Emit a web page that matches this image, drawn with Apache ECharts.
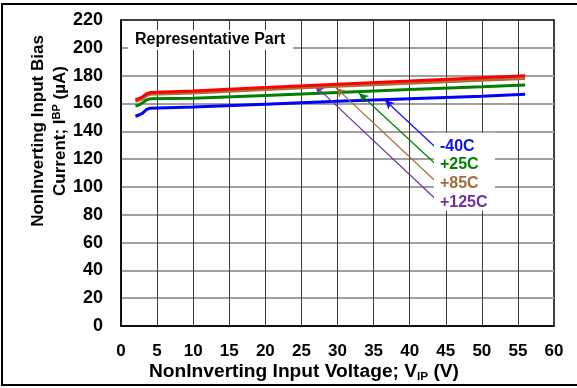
<!DOCTYPE html>
<html>
<head>
<meta charset="utf-8">
<script src="https://cdn.jsdelivr.net/npm/echarts@6/dist/echarts.min.js"></script>
<style>
html,body{margin:0;padding:0;background:#fff;}
#c{width:577px;height:388px;}
</style>
</head>
<body>
<div id="c"></div>
<script>
// Data (x in V, y in µA)
const vIn = [2, 2.5, 3, 3.5, 4, 10, 20, 30, 40, 50, 56];
const iBlue  = [150.8, 151.7, 153.0, 155.5, 156.6, 157.5, 159.5, 161.5, 163.4, 165.2, 166.6]; // -40C
const iGreen = [158.2, 159.0, 160.5, 162.5, 163.3, 163.7, 165.8, 167.9, 170.0, 172.0, 173.3]; // +25C
const iBrown = [161.5, 162.3, 163.5, 165.5, 166.6, 167.5, 170.0, 172.3, 174.6, 176.6, 177.9]; // +85C
const iRed   = [162.8, 163.5, 164.8, 166.8, 167.8, 169.0, 171.5, 173.8, 176.1, 178.5, 179.9]; // +125C
const xTicks = [0,5,10,15,20,25,30,35,40,45,50,55,60];
const yTicks = [0,20,40,60,80,100,120,140,160,180,200,220];
const labelNames = ['-40C', '+25C', '+85C', '+125C'];
const labelColors = ['#1010f0', '#008000', '#a06c3c', '#7030a0'];
// arrow annotations [tail, head] in data coords
const arrowTails = [[43.5, 128.9], [43.4, 117.4], [43.4, 105.0], [43.4, 92.2]];
const arrowHeads = [[36.6, 162.3], [33.0, 167.3], [29.8, 171.2], [26.9, 172.8]];
const labelPos = [[44.2, 128.9], [44.2, 115.7], [44.2, 102.6], [44.2, 88.6]];

const FONT = 'Liberation Sans, Arial, sans-serif';
const chart = echarts.init(document.getElementById('c'));

function mkSeries(name, data, color, idx) {
  return {
    name, type: 'line', data: vIn.map((v, i) => [v, data[i]]),
    showSymbol: false, symbol: 'none', smooth: false, z: 3 + idx,
    lineStyle: { color, width: 3 },
    markLine: {
      silent: true, symbol: ['none', 'arrow'], symbolSize: [7, 9],
      label: { show: false },
      lineStyle: { color: labelColors[idx], width: 1.2, type: 'solid' },
      data: [[{ coord: arrowTails[idx] }, { coord: arrowHeads[idx] }]]
    }
  };
}

chart.setOption({
  animation: false,
  grid: { left: 121, top: 20, right: 23, bottom: 62, show: true, borderColor: '#000', borderWidth: 1.5, backgroundColor: 'transparent' },
  xAxis: {
    type: 'value', min: 0, max: 60, interval: 5,
    axisLine: { show: true, lineStyle: { color: '#000', width: 1.5 } },
    axisTick: { show: false },
    axisLabel: { margin: 17, color: '#000', fontWeight: 'bold', fontSize: 17, fontFamily: FONT,
      customValues: xTicks },
    splitLine: { show: true, showMinLine: false, showMaxLine: false, lineStyle: { color: '#3a3a3a', width: 1 } }
  },
  yAxis: {
    type: 'value', min: 0, max: 220, interval: 20,
    axisLine: { show: true, lineStyle: { color: '#000', width: 1.5 } },
    axisTick: { show: false },
    axisLabel: { margin: 18, color: '#000', fontWeight: 'bold', fontSize: 18, fontFamily: FONT },
    splitLine: { show: true, showMinLine: false, showMaxLine: false, lineStyle: { color: '#a0a0a0', width: 2 } }
  },
  series: [
    mkSeries('-40C', iBlue, '#0000ff', 0),
    mkSeries('+25C', iGreen, '#008000', 1),
    mkSeries('+85C', iBrown, '#a8703c', 2),
    mkSeries('+125C', iRed, '#ff0000', 3)
  ]
});

const lp = labelPos.map(p => chart.convertToPixel({ gridIndex: 0 }, p));
const boxL = lp[0][0] - 6, boxT = lp[0][1] - 14, boxB = lp[3][1] + 8;
const graphics = [
  { type: 'rect', z: 50, shape: { x: 2, y: 4, width: 590, height: 381 },
    style: { fill: 'none', stroke: '#000', lineWidth: 2 } },
  { type: 'rect', z: 40, shape: { x: 128, y: 30, width: 165, height: 20 }, style: { fill: '#fff' } },
  { type: 'text', z: 41, x: 135, y: 40,
    style: { text: 'Representative Part', fill: '#000', font: 'bold 16px ' + FONT, verticalAlign: 'middle', align: 'left' } },
  { type: 'rect', z: 40, shape: { x: boxL, y: boxT, width: 61, height: boxB - boxT }, style: { fill: '#fff' } },
  { type: 'text', z: 41, x: 304, y: 372, scaleX: 1.065,
    style: {
      text: '{m|NonInverting Input Voltage; V}{s|IP}{m| (V)}', align: 'center', verticalAlign: 'middle',
      rich: {
        m: { font: 'bold 18px ' + FONT, fill: '#000', lineHeight: 22 },
        s: { font: 'bold 11px ' + FONT, fill: '#000', lineHeight: 22, padding: [9, 0, 0, 0] }
      }
    } },
  { type: 'text', z: 41, x: 49, y: 131, rotation: Math.PI / 2,
    style: {
      text: '{m|NonInverting Input Bias}\n{m|Current; I}{p|BP}{m| (µA)}', align: 'center', verticalAlign: 'middle',
      rich: {
        m: { font: 'bold 17px ' + FONT, fill: '#000', lineHeight: 22, align: 'center' },
        p: { font: 'bold 11px ' + FONT, fill: '#000', lineHeight: 22, padding: [0, 0, 7, 0] }
      }
    } }
];
labelNames.forEach((t, i) => {
  graphics.push({ type: 'text', z: 42, x: lp[i][0], y: lp[i][1],
    style: { text: t, fill: labelColors[i], font: 'bold 16px ' + FONT, verticalAlign: 'middle', align: 'left' } });
});
chart.setOption({ graphic: graphics });
</script>
</body>
</html>
